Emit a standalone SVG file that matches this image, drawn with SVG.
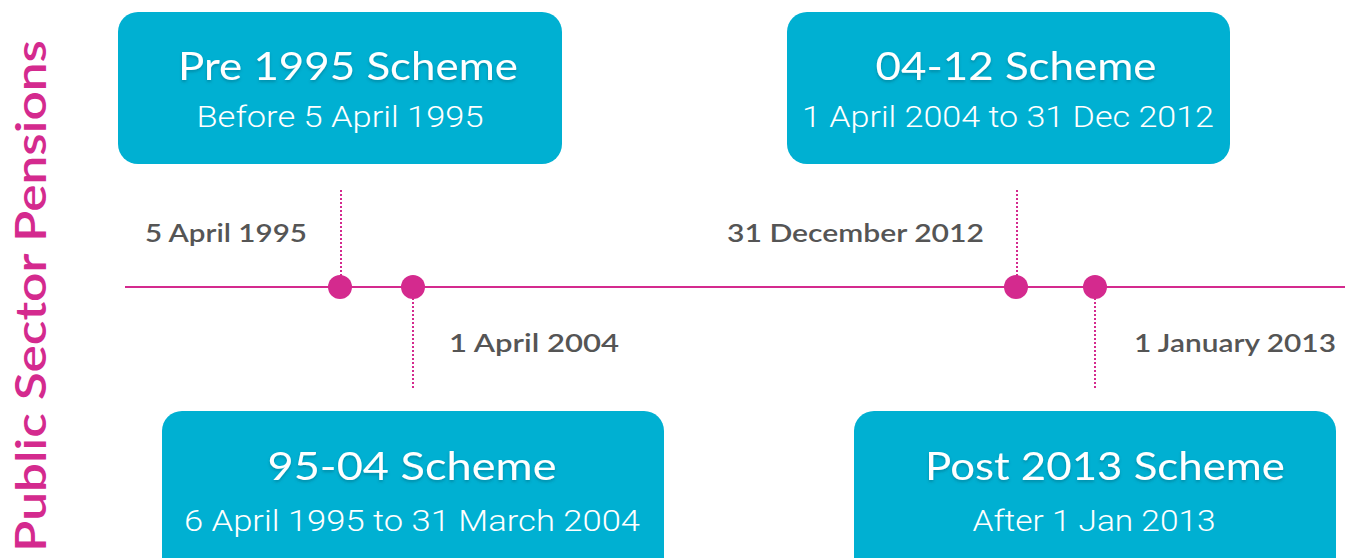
<svg xmlns="http://www.w3.org/2000/svg" width="1352" height="558" viewBox="0 0 1352 558">
  <defs>
    <filter id="soft" x="-10%" y="-30%" width="120%" height="160%">
      <feDropShadow dx="0" dy="2" stdDeviation="1.5" flood-color="#00485a" flood-opacity="0.35"/>
    </filter>
    <style>
      .box { fill: #00B0D2; }
      .title { font-family: "Lato", "Open Sans", "Liberation Sans", sans-serif; font-size: 38px; fill: #ffffff; text-anchor: middle; }
      .sub { font-family: "Roboto", "Liberation Sans", sans-serif; font-size: 29px; font-weight: 300; fill: #ffffff; text-anchor: middle; }
      .date { font-family: "Lato", "Open Sans", "Liberation Sans", sans-serif; font-size: 25px; font-weight: 600; fill: #555555; }
      .axis { stroke: #D42A8E; stroke-width: 2; fill: none; }
      .guide { stroke: #D42A8E; stroke-width: 2; stroke-dasharray: 2 2; fill: none; }
      .dot { fill: #D42A8E; }
      .heading { font-family: "Lato", "Open Sans", "Liberation Sans", sans-serif; font-size: 42px; font-weight: 600; fill: #D42A8E; }
    </style>
  </defs>
  <rect width="1352" height="558" fill="#ffffff"/>

  <!-- vertical heading -->
  <text class="heading" transform="translate(46,552) rotate(-90)" textLength="512" lengthAdjust="spacingAndGlyphs">Public Sector Pensions</text>

  <!-- timeline axis, guides and markers -->
  <g id="connectors">
    <line class="axis" x1="125" y1="287" x2="1345" y2="287"/>
    <line class="guide" x1="341" y1="190" x2="341" y2="276"/>
    <line class="guide" x1="413" y1="298" x2="413" y2="388"/>
    <line class="guide" x1="1017" y1="190" x2="1017" y2="276"/>
    <line class="guide" x1="1095" y1="298" x2="1095" y2="388"/>
    <circle class="dot" cx="340" cy="287" r="12"/>
    <circle class="dot" cx="413" cy="287" r="12"/>
    <circle class="dot" cx="1016" cy="287" r="12"/>
    <circle class="dot" cx="1095" cy="287" r="12"/>
  </g>

  <!-- date labels -->
  <g id="dates">
    <text class="date" x="145" y="242" textLength="162" lengthAdjust="spacingAndGlyphs">5 April 1995</text>
    <text class="date" x="449" y="352" textLength="170" lengthAdjust="spacingAndGlyphs">1 April 2004</text>
    <text class="date" x="727" y="242" textLength="257" lengthAdjust="spacingAndGlyphs">31 December 2012</text>
    <text class="date" x="1134" y="352" textLength="202" lengthAdjust="spacingAndGlyphs">1 January 2013</text>
  </g>

  <g id="pre1995">
    <rect class="box" x="118" y="12" width="444" height="152" rx="20"/>
    <text class="title" x="348" y="80" filter="url(#soft)" textLength="340" lengthAdjust="spacingAndGlyphs">Pre 1995 Scheme</text>
    <text class="sub" x="340" y="127" textLength="287" lengthAdjust="spacingAndGlyphs">Before 5 April 1995</text>
  </g>

  <g id="scheme0412">
    <rect class="box" x="787" y="12" width="443" height="152" rx="20"/>
    <text class="title" x="1016" y="80" filter="url(#soft)" textLength="281" lengthAdjust="spacingAndGlyphs">04-12 Scheme</text>
    <text class="sub" x="1008" y="127" textLength="412" lengthAdjust="spacingAndGlyphs">1 April 2004 to 31 Dec 2012</text>
  </g>

  <g id="scheme9504">
    <rect class="box" x="162" y="411" width="502" height="170" rx="20"/>
    <text class="title" x="412" y="480" filter="url(#soft)" textLength="289" lengthAdjust="spacingAndGlyphs">95-04 Scheme</text>
    <text class="sub" x="412" y="531" textLength="456" lengthAdjust="spacingAndGlyphs">6 April 1995 to 31 March 2004</text>
  </g>

  <g id="post2013">
    <rect class="box" x="854" y="411" width="482" height="170" rx="20"/>
    <text class="title" x="1105" y="480" filter="url(#soft)" textLength="360" lengthAdjust="spacingAndGlyphs">Post 2013 Scheme</text>
    <text class="sub" x="1094" y="531" textLength="243" lengthAdjust="spacingAndGlyphs">After 1 Jan 2013</text>
  </g>
</svg>
